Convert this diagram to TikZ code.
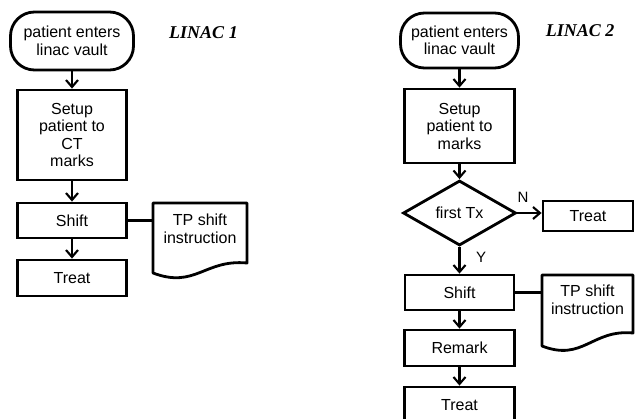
\documentclass[tikz,border=0pt]{standalone}
\usepackage{fontspec}
\setmainfont{Liberation Sans}
\newfontfamily\titlefont{Liberation Serif}
\usetikzlibrary{shapes.geometric,arrows.meta}
\begin{document}
\begin{tikzpicture}[x=1pt,y=-1pt,
  every node/.style={font=\fontsize{16}{17.5}\selectfont, align=center, inner sep=0pt},
  box/.style={draw, line width=2.8pt, rectangle},
  term/.style={draw, line width=2.8pt, rounded corners=24pt},
  dec/.style={draw, diamond, line width=2.8pt, aspect=1.74},
  arr/.style={line width=2.1pt, -{Straight Barb[length=7pt,width=12pt]}},
  link/.style={line width=2.1pt},
  docline/.style={line width=2.8pt, line join=round},
  title/.style={font=\titlefont\bfseries\itshape\fontsize{18}{20}\selectfont},
  lbl/.style={font=\fontsize{15}{16}\selectfont}
]
\fill[white] (0,0) rectangle (636,419);
\useasboundingbox (0,0) rectangle (636,419);

% ---------- LINAC 1 ----------
\node[term, minimum width=123pt, minimum height=58pt] (start1) at (72,41) {patient enters\\linac vault};
\node[box, minimum width=109pt, minimum height=90pt] (setup1) at (72,135) {Setup\\patient to\\CT\\marks};
\node[box, minimum width=109pt, minimum height=35pt] (shift1) at (72,220.5) {Shift};
\node[box, minimum width=109pt, minimum height=36pt] (treat1) at (72,278) {Treat};
\node (tp1) at (200,229) {TP shift\\instruction};
\draw[docline] (153,203) -- (247,203) -- (247,263) .. controls (204.7,259) and (195.3,289) .. (153,273) -- cycle;
\coordinate (doc1w) at (153,220.5);
\node[title] (t1) at (203.5,33) {LINAC 1};

\draw[arr] (start1) -- (setup1);
\draw[arr] (setup1) -- (shift1);
\draw[arr] (shift1) -- (treat1);
\draw[link] (shift1.east) -- (doc1w);

% ---------- LINAC 2 ----------
\node[term, minimum width=118pt, minimum height=55pt] (start2) at (459.5,40.5) {patient enters\\linac vault};
\node[box, minimum width=110pt, minimum height=74pt] (setup2) at (459.5,126) {Setup\\patient to\\marks};
\node[dec, minimum width=113pt, minimum height=65pt] (first) at (459.5,213) {first Tx};
\node[box, minimum width=90pt, minimum height=30pt] (treatN) at (588,216) {Treat};
\node[box, minimum width=109pt, minimum height=35pt] (shift2) at (459.5,292.5) {Shift};
\node[box, minimum width=110pt, minimum height=36pt] (remark) at (459.5,348) {Remark};
\node (tp2) at (587.5,300) {TP shift\\instruction};
\draw[docline] (542,275) -- (633,275) -- (633,333) .. controls (592,329) and (583,362) .. (542,346) -- cycle;
\coordinate (doc2w) at (542,292.5);
\node[title] (t2) at (580,31) {LINAC 2};
\node[lbl] (nlab) at (523,197) {N};
\node[lbl] (ylab) at (481,257) {Y};

\begin{scope}
\clip (0,0) rectangle (636,419);
\node[box, minimum width=110pt, minimum height=36pt] (treat2) at (459.5,405) {Treat};
\end{scope}

\draw[arr] (start2) -- (setup2);
\draw[arr] (setup2) -- (first);
\draw[arr] (first.east) -- (first.east -| treatN.west);
\draw[arr] (first) -- (shift2);
\draw[arr] (shift2) -- (remark);
\draw[arr] (remark) -- (treat2);
\draw[link] (shift2.east) -- (doc2w);
\end{tikzpicture}
\end{document}
